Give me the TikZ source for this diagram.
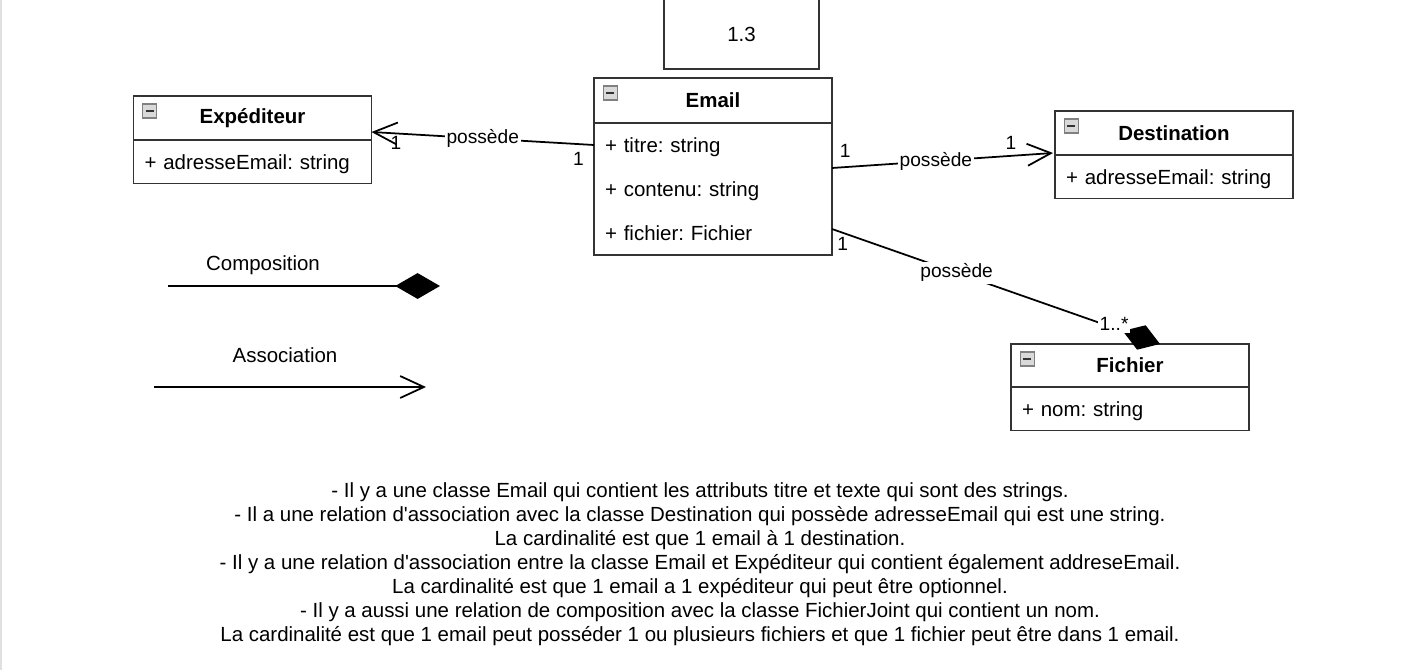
\documentclass[tikz,border=0pt]{standalone}
\usepackage{fontspec}
\setmainfont{Liberation Sans}
\usetikzlibrary{arrows.meta,positioning}
\tikzset{classhd/.style={rectangle,draw=black!80,line width=1.1pt,minimum width=4.76cm,
minimum height=0.88cm,outer sep=0pt,font=\fontsize{11.65}{13.7}\selectfont\bfseries},
classattr/.style={rectangle,draw=black!80,line width=1.1pt,minimum width=4.76cm,
minimum height=0.87cm,outer sep=0pt,inner xsep=0.22cm,text width=4.32cm,align=left,
font=\fontsize{11.65}{13.7}\selectfont},
attrline/.style={classattr,text height=8.8pt,text depth=0pt},
plain/.style={font=\fontsize{11.65}{13.7}\selectfont},
lbl/.style={font=\fontsize{10.9}{12}\selectfont,inner sep=1pt},
assoc/.style={draw=black,line width=1pt,-{Straight Barb[length=13.5pt,width=12.5pt]}},
compo/.style={draw=black,line width=1pt,-{Diamond[length=#1,width=14.7pt]}},
compo/.default=25.5pt}
% little minus box in the corner of a class header
\newcommand{\classicon}[1]{%
  \draw[draw=gray,fill=gray!30,line width=0.6pt] ([shift={(9,8)}]#1.north west) rectangle ++(14,14);
  \draw[line width=1.2pt,black!80] ([shift={(12,15)}]#1.north west) -- ++(8,0);}
\frenchspacing

\begin{document}
\begin{tikzpicture}[x=0.02cm,y=-0.02cm]
  \useasboundingbox (0,0) rectangle (1406,670);
  \fill[black!12] (0,0) rectangle (2,670);

  \node[draw=black!80,line width=1.1pt,minimum width=3.1cm,minimum height=1.48cm,plain,
    text height=10.6pt,text depth=0pt] (ver) at (741.5,32) {1.3};

  % classes
  \node[classhd] (exphd) at (252.5,118) {Exp\'editeur};
  \node[attrline,below=0pt of exphd] (expattr) {+ adresseEmail: string};
  \node[classhd,minimum height=0.9cm] (emailhd) at (713,100.5) {Email};
  \node[classattr,minimum height=2.64cm,below=0pt of emailhd,font=\fontsize{11.65}{25.2}\selectfont] (emailattr)
    {+ titre: string\\+ contenu: string\\+ fichier: Fichier};
  \node[classhd] (desthd) at (1174,133) {Destination};
  \node[attrline,below=0pt of desthd] (destattr) {+ adresseEmail: string};
  \node[classhd,minimum height=0.86cm] (fichhd) at (1130,365.5) {Fichier};
  \node[attrline,below=0pt of fichhd] (fichattr) {+ nom: string};
  \classicon{exphd} \classicon{emailhd} \classicon{desthd} \classicon{fichhd}

  % relations
  \draw[assoc] ([shift={(0,22)}]emailattr.north west)
    -- node[lbl,fill=white] (l1) {poss\`ede}
       node[lbl,pos=0.07,below=3pt] (m1a) {1}
       node[lbl,pos=0.89,below=0pt] (m1b) {1}
    ([shift={(0,-8)}]exphd.south east);
  \draw[assoc] ([shift={(0,45)}]emailattr.north east)
    -- node[lbl,fill=white,pos=0.47] (l2) {poss\`ede}
       node[lbl,pos=0.06,above=4pt] (m2a) {1}
       node[lbl,pos=0.81,above=2pt] (m2b) {1}
    ([shift={(-2,-2)}]desthd.south west);
  \draw[compo=22.5pt] ([shift={(0,106)}]emailattr.north east)
    -- node[lbl,fill=white,pos=0.38] (l3) {poss\`ede}
       node[lbl,pos=0,anchor=north west,xshift=1.5pt,yshift=-3.4pt] (m3a) {1}
       node[lbl,fill=white,pos=0.86,yshift=2pt] (m3b) {1..*}
    ([shift={(30,0)}]fichhd.north);

  % legend
  \coordinate (cs) at (168,286);
  \coordinate (ce) at (440,286);
  \draw[compo] (cs) -- (ce);
  \node[plain] (ctext) at (263,265) {Composition};
  \coordinate (as) at (154,387);
  \coordinate (ae) at (426,387);
  \draw[assoc] (as) -- (ae);
  \node[plain] (atext) at (285,355) {Association};

  \node[plain,align=center] (notes) at (700,564) {%
    - Il y a une classe Email qui contient les attributs titre et texte qui sont des strings.\\
    - Il a une relation d\textquotesingle association avec la classe Destination qui poss\`ede adresseEmail qui est une string.\\
    La cardinalit\'e est que 1 email \`a 1 destination.\\
    - Il y a une relation d\textquotesingle association entre la classe Email et Exp\'editeur qui contient \'egalement addreseEmail.\\
    La cardinalit\'e est que 1 email a 1 exp\'editeur qui peut \^etre optionnel.\\
    - Il y a aussi une relation de composition avec la classe FichierJoint qui contient un nom.\\
    La cardinalit\'e est que 1 email peut poss\'eder 1 ou plusieurs fichiers et que 1 fichier peut \^etre dans 1 email.};
\end{tikzpicture}
\end{document}
